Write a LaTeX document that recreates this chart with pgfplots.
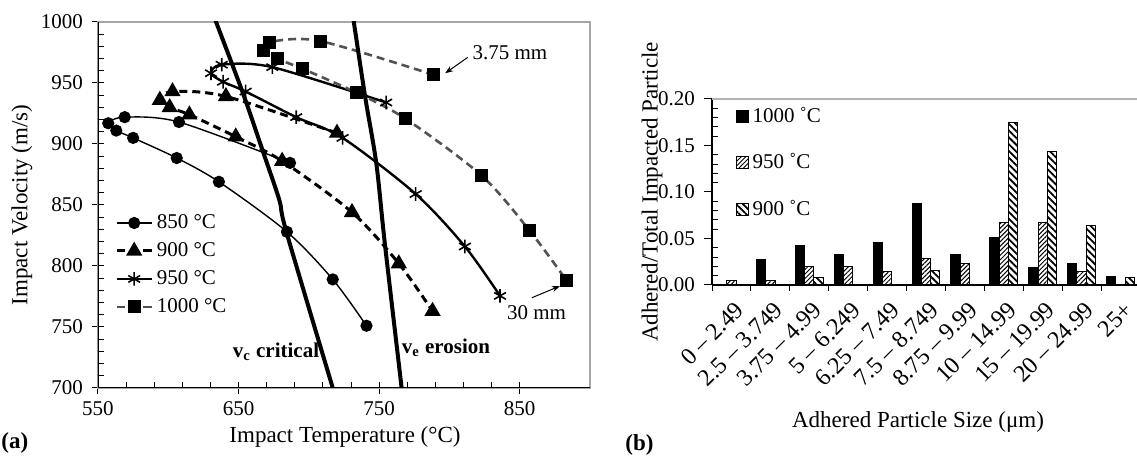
\documentclass[border=0pt]{standalone}
\usepackage{fontspec}
\setmainfont{Liberation Serif}
\usepackage{pgfplots}
\pgfplotsset{compat=1.18}
\usetikzlibrary{patterns.meta,arrows.meta}
\pgfplotsset{sqlegend/.style={legend image code/.code={\draw[##1] (0pt,-3pt) rectangle (6pt,3pt);}}}
\begin{document}
\begin{tikzpicture}
\useasboundingbox (0,0) rectangle (568.5pt,229.5pt);
% ---------------- (a) ----------------
\begin{axis}[
 at={(49pt,35.5pt)}, anchor=south west, scale only axis, width=246pt, height=183pt,
 xmin=550,xmax=900,ymin=700,ymax=1000,
 xtick={550,650,750,850}, minor x tick num=4,
 ytick={700,750,...,1000}, minor y tick num=4,
 xtick pos=bottom, ytick pos=left,
 tick align=inside, major tick length=6pt, minor tick length=3pt,
 major x tick style={yshift=-3pt}, major y tick style={xshift=-3pt},
 tick style={black, line width=0.5pt},
 axis line style={draw=gray!70, line width=0.6pt},
 /pgf/number format/assume math mode=true,
 /pgf/number format/set thousands separator={},
 ticklabel style={font=\fontsize{10.5}{12}\selectfont},
 xticklabel style={yshift=-3pt},
 yticklabel style={xshift=-4pt},
 legend style={draw=none, fill=none, at={(0.035,0.486)}, anchor=north west, font=\fontsize{10.5}{12}\selectfont, row sep=1.5pt, inner sep=0pt},
 legend cell align=left,
]
\addplot[black, line width=0.7pt, smooth, mark=*, mark size=2.7pt] coordinates {
(686.6,884.5)(607.6,918)(569,922)(557.3,917)(563,911)(575,905)(606,888.5)(636,869)(684.4,828)(717,789)(741,751)};
\addlegendentry{850 °C}
\addplot[black, line width=1.5pt, dash pattern=on 4pt off 2.5pt, smooth, mark=triangle*, mark size=3.2pt, mark options={solid}] coordinates {
(720,909)(641,939)(603,943)(594,936)(601,930)(615,924)(648,906)(681,886)(730.7,844)(764,802)(788,763)};
\addlegendentry{900 °C}
\addplot[black, line width=1.2pt, smooth, mark=asterisk, mark size=3.4pt, mark options={line width=0.8pt}] coordinates {
(755,934)(674,963)(638,965)(630.4,958)(639,951)(655,943)(691,922)(724,905)(776,859)(811,816)(836,775.5)};
\addlegendentry{950 °C}
\addplot[black!68, line width=1.3pt, dash pattern=on 4pt off 2.5pt, smooth, mark=square*, mark size=2.6pt, mark options={solid, black, fill=black}] coordinates {
(789,956.6)(708,984.4)(672,983.6)(667.4,977)(678,969.7)(695.8,961.5)(734,942)(769,920.5)(823,874)(857,829)(883.6,787.7)};
\addlegendentry{1000 °C}
% critical lines
\addplot[black, line width=2pt, smooth, forget plot] coordinates {(632,1006)(634,1000)(653,942)(667,895)(679,854)(684,828)(717,700)(718.5,694)};
\addplot[black, line width=2pt, smooth, forget plot] coordinates {(731.4,1006)(732,1000)(740,939)(748,884)(754,819)(766,700)(766.6,694)};
\draw[black, line width=0.6pt] (axis cs:550,1000) -- (axis cs:550,700) -- (axis cs:900,700);
\node[font=\fontsize{10.5}{12}\selectfont] at (axis cs:843,974.6) {3.75 mm};
\draw[-{Stealth[length=4pt,width=3pt]}, line width=0.5pt] (axis cs:813,971) -- (axis cs:797,958);
\node[font=\fontsize{10.5}{12}\selectfont] at (axis cs:862,761.5) {30 mm};
\draw[-{Stealth[length=4pt,width=3pt]}, line width=0.5pt] (axis cs:858.7,774) -- (axis cs:878.6,783.6);
\node[font=\bfseries\fontsize{10.5}{12}\selectfont] at (axis cs:676.6,729.5) {v\textsubscript{c} critical};
\node[font=\bfseries\fontsize{10.5}{12}\selectfont] at (axis cs:797.5,732.8) {v\textsubscript{e} erosion};
\end{axis}
% ---------------- (b) ----------------
\begin{axis}[
 at={(356pt,87pt)}, anchor=south west, scale only axis, width=214pt, height=93pt,
 xmin=-0.5, xmax=10.5, ymin=0, ymax=0.2,
 axis x line*=bottom, axis y line*=left,
 axis line style={black, line width=0.6pt},
 every outer x axis line/.append style={-},
 every outer y axis line/.append style={-},
 ybar=0pt, bar width=4.65pt,
 xtick={0,...,10},
 xticklabels={0 – 2.49, 2.5 – 3.749, 3.75 – 4.99, 5 – 6.249, 6.25 – 7.49, 7.5 – 8.749, 8.75 – 9.99, 10 – 14.99, 15 – 19.99, 20 – 24.99, 25+},
 major x tick style={draw=none},
 minor xtick={-0.5,0.5,...,10.5},
 ytick={0,0.05,...,0.2}, minor y tick num=4,
 tick align=outside, major tick length=4pt, minor tick length=3pt,
 minor y tick style={xshift=3pt},
 tick style={black, line width=0.5pt},
 /pgf/number format/assume math mode=true,
 yticklabel style={/pgf/number format/.cd, fixed, fixed zerofill, precision=2, /tikz/.cd, font=\fontsize{10.5}{12}\selectfont, xshift=-1pt},
 xticklabel style={rotate=45, anchor=east, font=\fontsize{12}{14}\selectfont, yshift=-7.5pt, xshift=-0.5pt, inner sep=1pt},
 legend style={draw=none, fill=none, at={(0.054,0.978)}, anchor=north west, font=\fontsize{10.5}{12}\selectfont, row sep=10pt, inner sep=0pt},
 legend cell align=left,
]
\addplot[fill=black, draw=black, line width=0.5pt, sqlegend] coordinates {
(0,0)(1,0.0276)(2,0.042)(3,0.033)(4,0.0459)(5,0.0878)(6,0.033)(7,0.0513)(8,0.0186)(9,0.0236)(10,0.0093)};
\addlegendentry{1000 ˚C}
\addplot[draw=black, line width=0.5pt, pattern={Lines[angle=45,distance=1.6pt,line width=0.5pt]}, sqlegend] coordinates {
(0,0.005)(1,0.005)(2,0.0194)(3,0.0194)(4,0.0143)(5,0.0283)(6,0.0236)(7,0.0674)(8,0.0674)(9,0.014)(10,0)};
\addlegendentry{950 ˚C}
\addplot[draw=black, line width=0.5pt, pattern={Lines[angle=-45,distance=2.4pt,line width=0.9pt]}, sqlegend] coordinates {
(0,0)(1,0)(2,0.0083)(3,0)(4,0)(5,0.0161)(6,0)(7,0.175)(8,0.1434)(9,0.0642)(10,0.0083)};
\addlegendentry{900 ˚C}
\draw[gray!60, line width=0.8pt] (axis cs:-0.5,0.2) -- (axis cs:10.5,0.2);
\end{axis}
% ---------------- labels ----------------
\node[font=\fontsize{11.5}{13}\selectfont] at (172.5pt,11pt) {Impact Temperature (°C)};
\node[rotate=90, font=\fontsize{11.5}{13}\selectfont] at (11pt,127pt) {Impact Velocity (m/s)};
\node[font=\bfseries\fontsize{11.5}{13}\selectfont, anchor=west, inner sep=0pt] at (0.5pt,8pt) {(a)};
\node[font=\bfseries\fontsize{11.5}{13}\selectfont, anchor=west, inner sep=0pt] at (312.5pt,7pt) {(b)};
\node[rotate=90, font=\fontsize{11.5}{13}\selectfont] at (326pt,133.5pt) {Adhered/Total Impacted Particle};
\node[font=\fontsize{11.5}{13}\selectfont] at (459pt,18.5pt) {Adhered Particle Size (μm)};
\end{tikzpicture}
\end{document}
